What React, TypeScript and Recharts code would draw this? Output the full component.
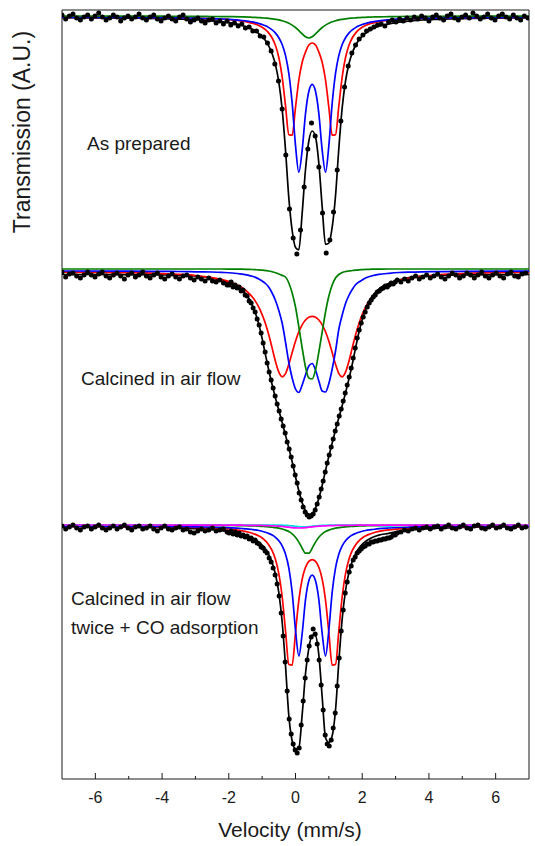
import React from "react";
import { ComposedChart, Line, XAxis, YAxis, ReferenceArea } from "recharts";

// Mössbauer spectra, three samples stacked in one frame.
// Values are transmission in arbitrary units; each panel spans 256 units.

const FONT = "'Liberation Sans', Arial, sans-serif";
const INK = "#1a1a1a";

const X_TICKS = [-6, -5, -4, -3, -2, -1, 0, 1, 2, 3, 4, 5, 6];
const Y_TICKS = Array.from({ length: 62 }, (_, i) => i * 12.5);

const PANEL_OFFSET = { top: 512, middle: 256, bottom: 0 };

// velocity grid for the fitted curves (mm/s)
const FIT_V = [
  -7, -5, -4, -3.5, -3, -2.5, -2.2, -1.9, -1.6, -1.4,
  -1.3, -1.2, -1.1, -1.0, -0.9, -0.8, -0.7, -0.6, -0.5, -0.4,
  -0.3, -0.2, -0.1, 0, 0.1, 0.2, 0.3, 0.4, 0.5, 0.6,
  0.7, 0.8, 0.9, 1.0, 1.1, 1.2, 1.3, 1.4, 1.5, 1.6,
  1.7, 1.8, 1.9, 2.0, 2.1, 2.2, 2.3, 2.5, 2.8, 3.1,
  3.4, 3.8, 4.3, 5, 7,
];

// ---- As prepared ----
const TOP_FIT = [
  249.3, 248.9, 248.4, 247.9, 247.3, 246.2, 245.2, 243.8, 241.5, 239.2,
  237.7, 235.9, 233.4, 230.5, 226.4, 220.9, 213.3, 202.1, 184.9, 157.8,
  117.1, 68.9, 36.5, 19.6, 17.2, 53.7, 97.5, 126, 136, 130,
  103.7, 60.1, 22.7, 23.9, 39.8, 71.3, 119, 159.3, 186, 203,
  214, 221.5, 226.9, 230.9, 233.7, 236.2, 238, 240.7, 243.1, 244.9,
  245.9, 247, 247.7, 248.4, 249.3,
];
const TOP_RED = [
  249.7, 249.5, 249.3, 249.1, 248.8, 248.3, 247.8, 247.1, 245.9, 244.7,
  243.9, 242.9, 241.5, 239.8, 237.3, 233.9, 229, 221.5, 209.5, 190.1,
  161.3, 132.4, 131.8, 159.5, 187, 204.8, 214.9, 222, 224, 222,
  214.9, 204.8, 187, 159.5, 131.8, 132.4, 161.3, 190.1, 209.5, 221.5,
  229, 233.9, 237.3, 239.8, 241.5, 242.9, 243.9, 245.4, 246.7, 247.6,
  248.1, 248.6, 249, 249.3, 249.7,
];
const TOP_BLUE = [
  249.7, 249.5, 249.3, 249.1, 248.8, 248.4, 248, 247.4, 246.5, 245.6,
  245.1, 244.4, 243.5, 242.5, 241.2, 239.4, 237.1, 233.9, 229.3, 222.5,
  211.6, 193.7, 163.8, 121.6, 94.8, 116.8, 153.4, 175.8, 182.7, 175.8,
  153.4, 116.8, 94.8, 121.6, 163.8, 193.7, 211.6, 222.5, 229.3, 233.9,
  237.1, 239.4, 241.2, 242.5, 243.5, 244.4, 245.1, 246.1, 247.1, 247.8,
  248.2, 248.7, 249, 249.3, 249.7,
];
const TOP_GREEN = [
  251, 250.9, 250.8, 250.7, 250.7, 250.5, 250.4, 250.3, 250.1, 249.9,
  249.7, 249.6, 249.4, 249.2, 248.9, 248.6, 248.2, 247.7, 247.1, 246.2,
  245.2, 243.8, 241.9, 239.5, 236.4, 233.1, 230.2, 229, 230.2, 233.1,
  236.4, 239.5, 241.9, 243.8, 245.2, 246.2, 247.1, 247.7, 248.2, 248.6,
  248.9, 249.2, 249.4, 249.6, 249.7, 249.9, 250, 250.2, 250.3, 250.5,
  250.6, 250.7, 250.7, 250.8, 250.9,
];

const TOP_VEL = [
  -7, -6.89, -6.78, -6.67, -6.56, -6.45, -6.34, -6.23, -6.12, -6.01,
  -5.9, -5.79, -5.68, -5.57, -5.46, -5.35, -5.24, -5.13, -5.02, -4.91,
  -4.8, -4.69, -4.58, -4.47, -4.36, -4.25, -4.14, -4.03, -3.92, -3.81,
  -3.7, -3.59, -3.48, -3.37, -3.26, -3.15, -3.04, -2.93, -2.82, -2.71,
  -2.6, -2.49, -2.38, -2.27, -2.16, -2.05, -1.94, -1.83, -1.72, -1.61,
  -1.5, -1.39, -1.28, -1.17, -1.06, -0.95, -0.84, -0.73, -0.62, -0.51,
  -0.4, -0.29, -0.18, -0.07, 0.04, 0.15, 0.26, 0.37, 0.48, 0.59,
  0.7, 0.81, 0.92, 1.03, 1.14, 1.25, 1.36, 1.47, 1.58, 1.69,
  1.8, 1.91, 2.02, 2.13, 2.24, 2.35, 2.46, 2.57, 2.68, 2.79,
  2.9, 3.01, 3.12, 3.23, 3.34, 3.45, 3.56, 3.67, 3.78, 3.89,
  4, 4.11, 4.22, 4.33, 4.44, 4.55, 4.66, 4.77, 4.88, 4.99,
  5.1, 5.21, 5.32, 5.43, 5.54, 5.65, 5.76, 5.87, 5.98, 6.09,
  6.2, 6.31, 6.42, 6.53, 6.64, 6.75, 6.86, 6.97,
];
const TOP_DATA = [
  252, 248, 251, 253, 249, 247, 250, 252, 248, 251,
  254, 250, 247, 249, 252, 250, 246, 249, 251, 248,
  250, 253, 249, 247, 250, 252, 248, 246, 249, 251,
  248, 246, 250, 252, 248, 245, 247, 249, 246, 244,
  247, 248, 244, 246, 243, 246, 242, 244, 241, 243,
  239, 240, 236, 236, 231, 230, 224, 216, 203, 186,
  158, 112, 58, 29, 13, 37, 80, 118, 144, 131,
  100, 54, 14, 27, 55, 97, 146, 180, 201, 214,
  222, 228, 232, 236, 238, 240, 242, 243, 241, 245,
  247, 245, 248, 246, 249, 247, 250, 248, 251, 249,
  246, 250, 252, 249, 247, 251, 253, 249, 247, 250,
  252, 249, 254, 251, 248, 250, 253, 249, 247, 251,
  253, 250, 248, 252, 249, 247, 251, 249,
];

// ---- Calcined in air flow ----
const MID_FIT = [
  248.5, 248.4, 248.1, 247.7, 247, 244.9, 242.5, 238.4, 232.8, 224.5,
  218.1, 209.7, 198.6, 184.5, 168.1, 152.5, 138.2, 124.9, 112.6, 100.6,
  87.9, 74.9, 61.2, 46.2, 32.2, 20.3, 12.1, 8.6, 9.4, 14.9,
  24.7, 37.8, 52.5, 66.8, 80.1, 93.1, 105.4, 117.4, 130.1, 143.8,
  158.5, 174.9, 190.5, 203.4, 213.3, 220.9, 226.5, 233.8, 239.6, 242.9,
  245.3, 246.8, 247.7, 248.1, 248.5,
];
const MID_RED = [
  250.8, 250.3, 249.4, 248.6, 247.4, 245.3, 243.4, 240.3, 235.3, 229.8,
  226.2, 221.6, 215.8, 208.4, 199.2, 187.9, 174.9, 161.5, 150.8, 146.2,
  149.4, 158.7, 170.5, 181.8, 191.2, 198.2, 203, 205.8, 206.7, 205.8,
  203, 198.2, 191.2, 181.8, 170.5, 158.7, 149.4, 146.2, 150.8, 161.5,
  174.9, 187.9, 199.2, 208.4, 215.8, 221.6, 226.2, 232.8, 238.9, 242.5,
  244.8, 246.7, 248.2, 249.4, 250.8,
];
const MID_BLUE = [
  252, 251.8, 251.6, 251.5, 251.2, 251, 250.6, 250, 248.8, 247.7,
  246.8, 245.6, 244, 242, 239.5, 235.8, 230, 222.5, 212.5, 200,
  181, 160.5, 145, 134, 130.5, 138, 148, 157, 159.5, 153,
  142, 132, 131, 139.5, 154, 172, 194, 208, 219.5, 227.5,
  233.5, 238.3, 241, 243, 245, 246.3, 247.3, 248.6, 249.7, 250.5,
  250.9, 251.2, 251.4, 251.6, 251.9,
];
const MID_GREEN = [
  254, 254, 254, 254, 254, 254, 254, 253.9, 253.8, 253.6,
  253.5, 253.3, 253.1, 252.8, 252.4, 252, 251.2, 250.2, 249, 247.6,
  246, 240, 230, 216, 196, 175, 156, 145, 144, 153,
  171, 191, 211, 227, 238, 245, 248.5, 250.5, 251.5, 252,
  252.5, 252.9, 253.2, 253.4, 253.6, 253.7, 253.8, 253.9, 254, 254,
  254, 254, 254, 254, 254,
];

// denser channel grid used for the two lower spectra
const DENSE_VEL = [
  -7, -6.89, -6.78, -6.67, -6.56, -6.45, -6.34, -6.23, -6.12, -6.01,
  -5.9, -5.79, -5.68, -5.57, -5.46, -5.35, -5.24, -5.13, -5.02, -4.91,
  -4.8, -4.69, -4.58, -4.47, -4.36, -4.25, -4.14, -4.03, -3.92, -3.81,
  -3.7, -3.59, -3.48, -3.37, -3.26, -3.15, -3.04, -2.93, -2.82, -2.71,
  -2.6, -2.49, -2.38, -2.27, -2.16, -2.05,
  -1.99, -1.93, -1.87, -1.81, -1.75, -1.69, -1.63, -1.57, -1.51, -1.45,
  -1.39, -1.33, -1.27, -1.21, -1.15, -1.09, -1.03, -0.97, -0.91, -0.85,
  -0.79, -0.73, -0.67, -0.61, -0.55, -0.49, -0.43, -0.37, -0.31, -0.25,
  -0.19, -0.13, -0.07, -0.01, 0.05, 0.11, 0.17, 0.23, 0.29, 0.35,
  0.41, 0.47, 0.53, 0.59, 0.65, 0.71, 0.77, 0.83, 0.89, 0.95,
  1.01, 1.07, 1.13, 1.19, 1.25, 1.31, 1.37, 1.43, 1.49, 1.55,
  1.61, 1.67, 1.73, 1.79, 1.85, 1.91, 1.97, 2.03, 2.09, 2.15,
  2.21, 2.27, 2.33, 2.39, 2.45, 2.51, 2.57, 2.63, 2.69, 2.75,
  2.81, 2.87, 2.93, 2.99, 3.05,
  3.16, 3.27, 3.38, 3.49, 3.6, 3.71, 3.82, 3.93, 4.04, 4.15,
  4.26, 4.37, 4.48, 4.59, 4.7, 4.81, 4.92, 5.03, 5.14, 5.25,
  5.36, 5.47, 5.58, 5.69, 5.8, 5.91, 6.02, 6.13, 6.24, 6.35,
  6.46, 6.57, 6.68, 6.79, 6.9,
];
const MID_DATA = [
  251, 246, 249, 250, 247, 245, 248, 251, 248, 246,
  249, 251, 247, 245, 248, 250, 247, 244, 248, 250,
  246, 248, 251, 247, 245, 248, 250, 246, 244, 247,
  249, 246, 244, 247, 248, 245, 243, 246, 244, 242,
  245, 242, 241, 243, 240, 238,
  238, 241, 236, 238, 235, 236, 232, 233, 228, 227,
  222, 220, 215, 211, 204, 198, 190, 180, 171, 160,
  151, 143, 135, 127, 119, 112, 104, 97, 90, 81,
  74, 66, 57, 48, 40, 30, 23, 16, 11, 8,
  6, 7, 9, 13, 19, 26, 34, 42, 51, 60,
  68, 76, 84, 92, 99, 107, 114, 122, 130, 138,
  146, 155, 165, 175, 185, 193, 200, 206, 211, 216,
  220, 223, 226, 228, 231, 232, 234, 235, 237, 236,
  238, 240, 239, 241, 243,
  241, 244, 242, 245, 247, 244, 246, 248, 245, 247,
  249, 246, 244, 247, 250, 248, 245, 247, 250, 248,
  245, 248, 251, 247, 245, 248, 250, 247, 245, 249,
  251, 247, 246, 249, 250,
];

// ---- Calcined twice + CO adsorption ----
const BOT_FIT = [
  252.5, 252, 251.5, 251, 250.4, 249.4, 248.4, 247.1, 244.8, 242.6,
  241.1, 239.3, 236.8, 233.8, 229.7, 224.1, 216.2, 204.5, 186.3, 157,
  113.4, 63.4, 38, 30, 31, 64.3, 105.3, 130.7, 144, 143.3,
  123.9, 82, 41.2, 36.5, 43.2, 69, 117.6, 160.1, 188.5, 206.2,
  217.5, 225.2, 230.7, 234.6, 237.5, 239.8, 241.5, 243.9, 245.6, 247.8,
  249, 250.1, 250.8, 251.5, 252.4,
];
const BOT_RED = [
  252.6, 252.4, 252.1, 251.9, 251.5, 251, 250.4, 249.6, 248.2, 246.8,
  245.8, 244.6, 243, 241, 238.1, 234.1, 228.3, 219.5, 205.4, 182.5,
  148.6, 114.6, 113.9, 146.5, 178.9, 199.8, 211.7, 217.6, 219.4, 217.6,
  211.7, 199.8, 178.9, 146.5, 113.9, 114.6, 148.6, 182.5, 205.4, 219.5,
  228.3, 234.1, 238.1, 241, 243, 244.6, 245.8, 247.6, 249.2, 250.2,
  250.8, 251.4, 251.8, 252.2, 252.6,
];
const BOT_BLUE = [
  252.8, 252.7, 252.5, 252.4, 252.2, 251.8, 251.6, 251.2, 250.5, 249.9,
  249.5, 249.1, 248.5, 247.7, 246.8, 245.5, 243.9, 241.6, 238.3, 233.2,
  225.1, 211.2, 186.9, 149, 123, 145.5, 179.3, 198.2, 203.9, 198.2,
  179.3, 145.5, 123, 149, 186.9, 211.2, 225.1, 233.2, 238.3, 241.6,
  243.9, 245.5, 246.8, 247.7, 248.5, 249.1, 249.5, 250.3, 251, 251.5,
  251.8, 252.1, 252.3, 252.5, 252.8,
];
const BOT_GREEN = [
  254, 253.9, 253.9, 253.8, 253.8, 253.7, 253.6, 253.5, 253.3, 253.2,
  253.1, 253, 252.8, 252.6, 252.4, 252.2, 251.8, 251.4, 250.8, 250,
  248.9, 247.4, 245.1, 241.7, 236.9, 230.8, 225.8, 225.8, 230.8, 236.9,
  241.7, 245.1, 247.4, 248.9, 250, 250.8, 251.4, 251.8, 252.2, 252.4,
  252.6, 252.8, 253, 253.1, 253.2, 253.3, 253.3, 253.4, 253.6, 253.7,
  253.7, 253.8, 253.8, 253.9, 254,
];
const BOT_MAGENTA = [
  254, 254, 254, 253.9, 253.9, 253.9, 253.9, 253.8, 253.8, 253.7,
  253.7, 253.6, 253.6, 253.5, 253.4, 253.3, 253.2, 253, 252.8, 252.5,
  252.2, 251.8, 251.4, 251.1, 251, 251.1, 251.4, 251.8, 252.2, 252.5,
  252.8, 253, 253.2, 253.3, 253.4, 253.5, 253.6, 253.6, 253.7, 253.7,
  253.7, 253.8, 253.8, 253.8, 253.9, 253.9, 253.9, 253.9, 253.9, 253.9,
  253.9, 253.9, 253.9, 254, 254,
];
const BOT_CYAN = [
  254, 254, 254, 254, 254, 254, 254, 254, 254, 254,
  254, 254, 254, 254, 254, 254, 254, 254, 253.9, 253.8,
  253.6, 253.4, 253.1, 252.7, 252.3, 252.1, 252.1, 252.3, 252.7, 253.1,
  253.4, 253.6, 253.7, 253.8, 253.9, 254, 254, 254, 254, 254,
  254, 254, 254, 254, 254, 254, 254, 253.7, 252.9, 253.5,
  253.9, 254, 254, 254, 254,
];
const BOT_DATA = [
  253, 250, 252, 254, 251, 249, 252, 253, 250, 252,
  254, 251, 249, 251, 253, 250, 252, 254, 251, 249,
  252, 253, 250, 251, 253, 250, 248, 251, 253, 250,
  249, 251, 252, 249, 250, 247, 246, 248, 250, 248,
  249, 251, 248, 249, 250, 247,
  246, 248, 245, 247, 244, 246, 243, 244, 242, 243,
  240, 241, 238, 239, 236, 235, 232, 231, 228, 226,
  221, 217, 211, 204, 195, 183, 166, 143, 117, 88,
  60, 45, 35, 29, 26, 31, 54, 78, 101, 119,
  133, 142, 150, 145, 135, 119, 94, 69, 44, 35,
  33, 39, 51, 66, 93, 121, 148, 169, 186, 197,
  207, 213, 219, 222, 226, 228, 230, 232, 233, 235,
  235, 237, 237, 238, 238, 239, 239, 240, 240, 241,
  241, 242, 244, 244, 246,
  247, 249, 248, 250, 251, 249, 251, 252, 250, 252,
  253, 250, 252, 254, 251, 250, 252, 254, 251, 250,
  253, 254, 251, 250, 252, 254, 251, 252, 254, 251,
  250, 252, 254, 251, 252,
];

function fitTable(offset: number, series: Record<string, number[]>) {
  return FIT_V.map((v, i) => {
    const row: Record<string, number> = { v };
    for (const key of Object.keys(series)) row[key] = series[key][i] + offset;
    return row;
  });
}

function pointTable(vel: number[], vals: number[], offset: number) {
  return vel.map((v, i) => ({ v, t: vals[i] + offset }));
}

const topFits = fitTable(PANEL_OFFSET.top, { fit: TOP_FIT, red: TOP_RED, blue: TOP_BLUE, green: TOP_GREEN });
const midFits = fitTable(PANEL_OFFSET.middle, { fit: MID_FIT, red: MID_RED, blue: MID_BLUE, green: MID_GREEN });
const botFits = fitTable(PANEL_OFFSET.bottom, {
  fit: BOT_FIT, red: BOT_RED, blue: BOT_BLUE, green: BOT_GREEN, magenta: BOT_MAGENTA, cyan: BOT_CYAN,
});

const topPoints = pointTable(TOP_VEL, TOP_DATA, PANEL_OFFSET.top);
const midPoints = pointTable(DENSE_VEL, MID_DATA, PANEL_OFFSET.middle);
const botPoints = pointTable(DENSE_VEL, BOT_DATA, PANEL_OFFSET.bottom);

const COLORS: Record<string, string> = {
  fit: "#000000",
  red: "#ff0000",
  blue: "#0000ff",
  green: "#008000",
  magenta: "#ff00ff",
  cyan: "#00e0e0",
};

function XTick(props: any) {
  const { x, y, payload } = props;
  const major = payload.value % 2 === 0;
  return (
    <g>
      <line x1={x} x2={x} y1={y} y2={y - (major ? 6 : 3)} stroke={INK} strokeWidth={1} />
      {major && (
        <text x={x} y={y + 24} textAnchor="middle" fontSize={16} fill={INK} fontFamily={FONT}>
          {payload.value}
        </text>
      )}
    </g>
  );
}

function YTick(props: any) {
  const { x, y } = props;
  return <line x1={x} x2={x + 3} y1={y} y2={y} stroke={INK} strokeWidth={1} />;
}

function dataDots(data: { v: number; t: number }[], key: string) {
  return (
    <Line
      key={key}
      data={data}
      dataKey="t"
      stroke="none"
      dot={{ r: 2.5, fill: "#000", stroke: "none" }}
      activeDot={false}
      isAnimationActive={false}
    />
  );
}

function fitLines(data: Record<string, number>[], keys: string[], prefix: string) {
  return keys.map((k) => (
    <Line
      key={prefix + k}
      data={data}
      dataKey={k}
      type="monotone"
      stroke={COLORS[k]}
      strokeWidth={1.7}
      dot={false}
      activeDot={false}
      isAnimationActive={false}
    />
  ));
}

export default function App() {
  return (
    <div style={{ position: "absolute", left: 0, top: 0, width: 535, height: 846, background: "#fff" }}>
      <ComposedChart width={535} height={846} margin={{ top: 10, right: 6, bottom: 0, left: 62 }}>
        <XAxis
          dataKey="v"
          type="number"
          domain={[-7, 7]}
          allowDataOverflow
          ticks={X_TICKS}
          interval={0}
          tick={XTick}
          tickLine={false}
          tickSize={0}
          tickMargin={0}
          axisLine={false}
          height={67}
        />
        <YAxis
          type="number"
          domain={[0, 769]}
          allowDataOverflow
          ticks={Y_TICKS}
          interval={0}
          tick={YTick}
          tickLine={false}
          tickSize={0}
          tickMargin={0}
          axisLine={false}
          width={0}
        />
        <ReferenceArea x1={-7} x2={7} y1={0} y2={769} fill="none" stroke={INK} strokeWidth={1} ifOverflow="visible" />

        {dataDots(topPoints, "topPts")}
        {dataDots(midPoints, "midPts")}
        {dataDots(botPoints, "botPts")}

        {fitLines(topFits, ["fit", "red", "blue", "green"], "top-")}
        {fitLines(midFits, ["fit", "red", "blue", "green"], "mid-")}
        {fitLines(botFits, ["fit", "red", "blue", "green", "cyan", "magenta"], "bot-")}
      </ComposedChart>

      <svg width={535} height={846} style={{ position: "absolute", left: 0, top: 0, pointerEvents: "none" }}>
        <g fontFamily={FONT} fill={INK}>
          <text transform="translate(22,132) rotate(-90)" textAnchor="middle" dominantBaseline="central" fontSize={23}>
            Transmission (A.U.)
          </text>
          <text x={290} y={829} textAnchor="middle" dominantBaseline="central" fontSize={21}>
            Velocity (mm/s)
          </text>
          <text x={87} y={143} dominantBaseline="central" fontSize={19}>As prepared</text>
          <text x={81} y={378} dominantBaseline="central" fontSize={19}>Calcined in air flow</text>
          <text x={71} y={598} dominantBaseline="central" fontSize={19}>Calcined in air flow</text>
          <text x={71} y={627} dominantBaseline="central" fontSize={19}>twice + CO adsorption</text>
        </g>
      </svg>
    </div>
  );
}
